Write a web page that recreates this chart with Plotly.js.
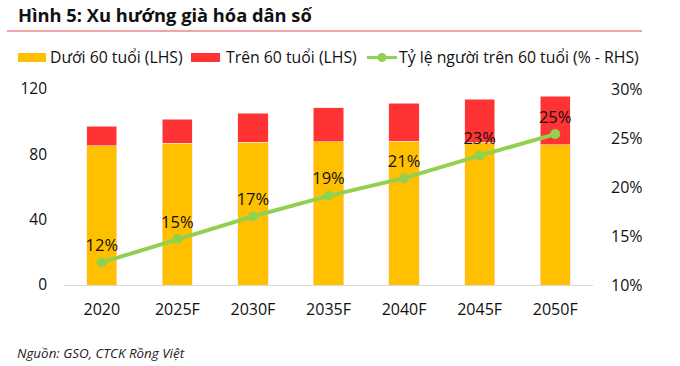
<!DOCTYPE html>
<html><head><meta charset="utf-8">
<script src="https://cdn.plot.ly/plotly-3.0.1.min.js"></script>
<style>html,body{margin:0;padding:0;background:#fff;}#chart{width:680px;height:366px;}</style>
</head><body><div id="chart"></div>
<script>
const categories = ['2020','2025F','2030F','2035F','2040F','2045F','2050F'];
const under60 = [85.3, 86.7, 87.3, 87.7, 87.9, 87.3, 85.9];
const over60 = [11.8, 14.9, 18.0, 20.7, 23.5, 26.4, 29.6];
const shareOver60 = [0.123, 0.147, 0.170, 0.191, 0.209, 0.232, 0.254];
const shareLabels = ['12%','15%','17%','19%','21%','23%','25%'];
const leftTicks = [0, 40, 80, 120];
const rightTicks = [0.10, 0.15, 0.20, 0.25, 0.30];
const seriesNames = ['Dưới 60 tuổi (LHS)', 'Trên 60 tuổi (LHS)', 'Tỷ lệ người trên 60 tuổi (% - RHS)'];

const W = 680, H = 366, L = 64, R = 87, T = 89, B = 81;
const pw = W - L - R, ph = H - T - B;
const px = x => (x - L) / pw;
const py = y => (H - B - y) / ph;
const FONT = 'Open Sans, sans-serif';
const YEL = '#ffc000', RED = '#ff3333', GRN = '#92d050';

const traces = [
  {type:'bar', x:categories, y:under60, name:seriesNames[0], marker:{color:YEL, line:{color:'#ffe0e0', width:0.6}}, width:0.4, hoverinfo:'y'},
  {type:'bar', x:categories, y:over60, name:seriesNames[1], marker:{color:RED, line:{color:'#ffe0e0', width:0.6}}, width:0.4, hoverinfo:'y'},
  {type:'scatter', mode:'lines+markers+text', x:categories, y:shareOver60, yaxis:'y2', name:seriesNames[2],
   line:{color:GRN, width:4}, marker:{color:GRN, size:10}, text:shareLabels, textposition:'top center',
   textfont:{family:FONT, size:16.5, color:'#111'}}
];

const layout = {
  width:W, height:H, margin:{l:L, r:R, t:T, b:B, pad:0},
  paper_bgcolor:'#fff', plot_bgcolor:'#fff', showlegend:false, barmode:'stack',
  font:{family:FONT, size:15, color:'#111'},
  xaxis:{type:'category', showline:true, linecolor:'#d9d9d9', linewidth:1, ticks:'', showgrid:false, zeroline:false,
         tickfont:{family:FONT, size:16, color:'#111'}, ticklabelstandoff:10},
  yaxis:{range:[0,120], tickvals:leftTicks, showgrid:false, zeroline:false, ticks:'', showline:false,
         tickfont:{family:FONT, size:15.5, color:'#111'}, ticklabelstandoff:16},
  yaxis2:{range:[0.10,0.30], tickvals:rightTicks, tickformat:'.0%', overlaying:'y', side:'right', showgrid:false,
          zeroline:false, ticks:'', showline:false, tickfont:{family:FONT, size:16, color:'#111'}, ticklabelstandoff:17},
  shapes:[
    {type:'line', xref:'paper', yref:'paper', x0:px(7), x1:px(642), y0:py(31), y1:py(31), line:{color:'#e8474c', width:1}},
    {type:'rect', xref:'paper', yref:'paper', x0:px(18), x1:px(46), y0:py(62), y1:py(53), fillcolor:YEL, line:{width:0}},
    {type:'rect', xref:'paper', yref:'paper', x0:px(191), x1:px(220), y0:py(62), y1:py(53), fillcolor:RED, line:{width:0}},
    {type:'line', xref:'paper', yref:'paper', x0:px(367), x1:px(397), y0:py(57.5), y1:py(57.5), line:{color:GRN, width:3}},
    {type:'circle', xref:'paper', yref:'paper', x0:px(377.5), x1:px(386.5), y0:py(62), y1:py(53), fillcolor:GRN, line:{width:0}}
  ],
  annotations:[
    {xref:'paper', yref:'paper', x:px(16), y:py(15), xanchor:'left', yanchor:'middle', showarrow:false,
     text:'<b>Hình 5: Xu hướng già hóa dân số</b>', font:{family:FONT, size:18.3, color:'#111'}},
    {xref:'paper', yref:'paper', x:px(48), y:py(57.5), xanchor:'left', yanchor:'middle', showarrow:false,
     text:seriesNames[0], font:{family:FONT, size:15.8, color:'#111'}},
    {xref:'paper', yref:'paper', x:px(224), y:py(57.5), xanchor:'left', yanchor:'middle', showarrow:false,
     text:seriesNames[1], font:{family:FONT, size:15.8, color:'#111'}},
    {xref:'paper', yref:'paper', x:px(397), y:py(57.5), xanchor:'left', yanchor:'middle', showarrow:false,
     text:seriesNames[2], font:{family:FONT, size:15.8, color:'#111'}},
    {xref:'paper', yref:'paper', x:px(15), y:py(353), xanchor:'left', yanchor:'middle', showarrow:false,
     text:'<i>Nguồn: GSO, CTCK Rồng Việt</i>', font:{family:FONT, size:13.4, color:'#222'}}
  ]
};
Plotly.newPlot('chart', traces, layout, {displayModeBar:false, staticPlot:true});
</script></body></html>
